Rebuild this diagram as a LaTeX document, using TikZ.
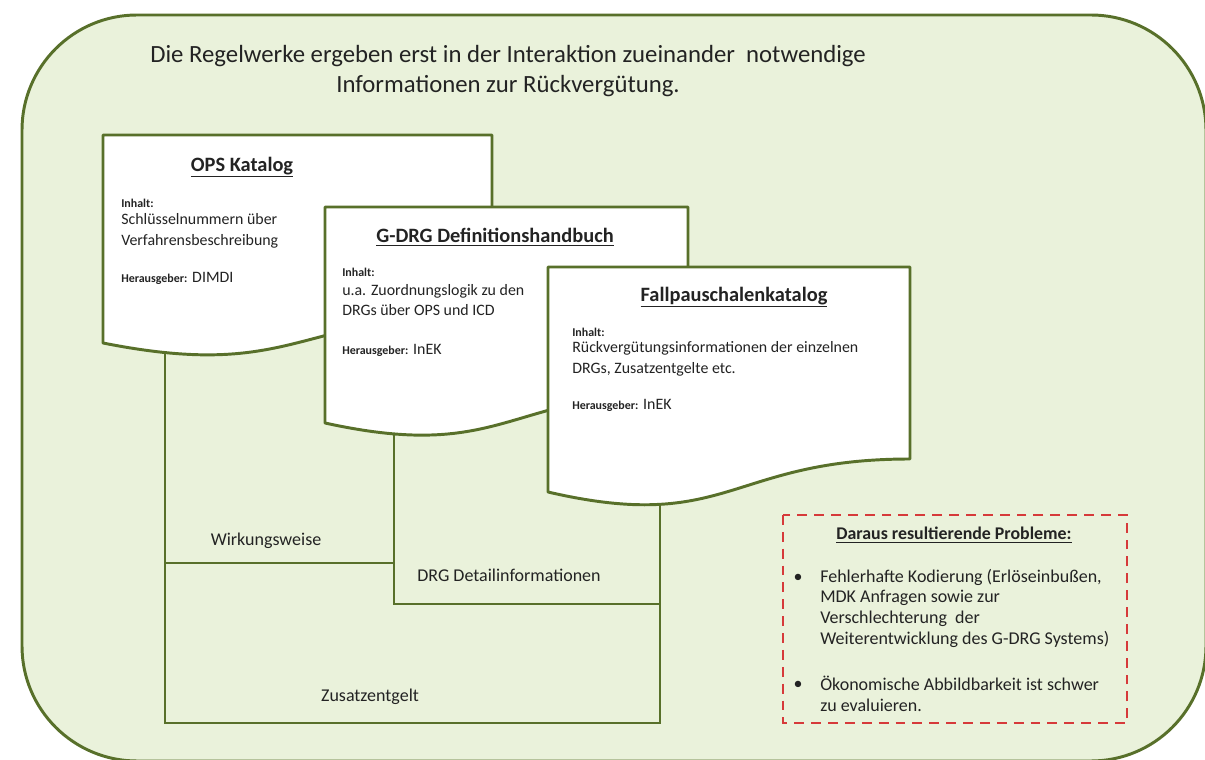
\documentclass[tikz,border=0pt]{standalone}
\usepackage{fontspec}
\setmainfont{Carlito}
\definecolor{olivlinie}{RGB}{88,112,42}
\definecolor{hellgruen}{RGB}{234,242,219}
\definecolor{strichrot}{RGB}{214,58,58}
\definecolor{schrift}{RGB}{35,35,35}
\newcommand{\hgkurz}{{\fontsize{8.5}{10}\selectfont\bfseries Herausgeber:}}
\begin{document}
\begin{tikzpicture}[x=0.025cm,y=-0.025cm,
				linie/.style = {draw=olivlinie, line width=2.1pt},
				dok/.style = {draw=olivlinie, line width=2.1pt, fill=white, line join=round},
				txt/.style = {inner sep=0pt, text=schrift, font=\fontsize{11.3}{14.5}\selectfont},
				label/.style = {inner sep=0pt, text=schrift, font=\fontsize{12.8}{15}\selectfont},
				klein/.style = {inner sep=0pt, text=schrift, font=\fontsize{8.5}{10}\selectfont\bfseries},
				dtitel/.style = {inner sep=0pt, text=schrift, font=\fontsize{14.5}{17}\selectfont\bfseries}]
				
				\fill[white] (0,0) rectangle (1205,760);
				\useasboundingbox (0,0) rectangle (1205,760);
				\draw[draw=olivlinie, line width=2.1pt, fill=hellgruen, rounded corners=2.875cm] (22,15) rectangle (1206,761);
				
				\node[txt, font=\fontsize{17.6}{21.5}\selectfont, align=center] (titel) at (508,71) {Die Regelwerke ergeben erst in der Interaktion zueinander\ \ notwendige\\Informationen zur Rückvergütung.};
				
				\coordinate (ops fuss) at (165,330);
				\coordinate (drg fuss) at (394,410);
				\coordinate (fp fuss) at (660,480);
				\coordinate (wirk ecke) at (165,563);
				\coordinate (zus links) at (165,723);
				\coordinate (zus rechts) at (660,723);
				\coordinate (detail ecke) at (660,604);
				\draw[linie] (ops fuss) -- (zus links) -- (zus rechts) -- (fp fuss);
				\draw[linie] (wirk ecke) -- (drg fuss |- wirk ecke);
				\draw[linie] (drg fuss) |- (detail ecke);
				
				\node[label] (wirkung) at (266,541) {Wirkungsweise};
				\node[label] (detail) at (509,575) {DRG Detailinformationen};
				\node[label] (zusatz) at (370,697) {Zusatzentgelt};
				
				\draw[dok] (103,135) -- (492,135) -- (492,313.6) .. controls (297.5,313.6) and (297.5,381.6) .. (103,343) -- cycle;
				\node[dtitel] (ops) at (242,167) {\underline{OPS Katalog}};
				\node[klein, anchor=west] (ops inhalt) at (121,203) {Inhalt:};
				\node[txt, anchor=west, align=left] (ops text) at (121,231) {Schlüsselnummern über\\Verfahrensbeschreibung};
				\node[txt, anchor=west] (ops hg) at (121,278) {\hgkurz{} DIMDI};
				
				\draw[dok] (325,207) -- (688,207) -- (688,392) .. controls (506.5,392) and (506.5,462.8) .. (325,423) -- cycle;
				\node[dtitel] (drg) at (495,237) {\underline{G-DRG Definitionshandbuch}};
				\node[klein, anchor=west] (drg inhalt) at (342,272) {Inhalt:};
				\node[txt, anchor=west, align=left] (drg text) at (342,300) {u.a. Zuordnungslogik zu den\\DRGs über OPS und ICD};
				\node[txt, anchor=west] (drg hg) at (342,350) {\hgkurz{} InEK};
				
				\draw[dok] (548,267) -- (910,267) -- (910,459) .. controls (729,459) and (729,534) .. (548,492) -- cycle;
				\node[dtitel] (fp) at (734,297) {\underline{Fallpauschalenkatalog}};
				\node[klein, anchor=west] (fp inhalt) at (572,332) {Inhalt:};
				\node[txt, anchor=west, align=left] (fp text) at (572,359) {Rückvergütungsinformationen der einzelnen\\DRGs, Zusatzentgelte etc.};
				\node[txt, anchor=west] (fp hg) at (572,405) {\hgkurz{} InEK};
				
				\draw[draw=strichrot, line width=2pt, dash pattern=on 7pt off 5pt] (783,515) rectangle (1127,723);
				\node[label, font=\fontsize{12.7}{15}\selectfont\bfseries] (probleme) at (954,535) {\underline{Daraus resultierende Probleme:}};
				\node[label] (punkt1) at (798,578) {•};
				\node[label, anchor=north west, align=left, font=\fontsize{12.8}{14.6}\selectfont] (problem1) at (820,569) {Fehlerhafte Kodierung (Erlöseinbußen,\\MDK Anfragen sowie zur\\Verschlechterung\ \ der\\Weiterentwicklung des G-DRG Systems)};
				\node[label] (punkt2) at (798,685) {•};
				\node[label, anchor=north west, align=left, font=\fontsize{12.8}{14.6}\selectfont] (problem2) at (820,676) {Ökonomische Abbildbarkeit ist schwer\\zu evaluieren.};
				
				\end{tikzpicture}
\end{document}
